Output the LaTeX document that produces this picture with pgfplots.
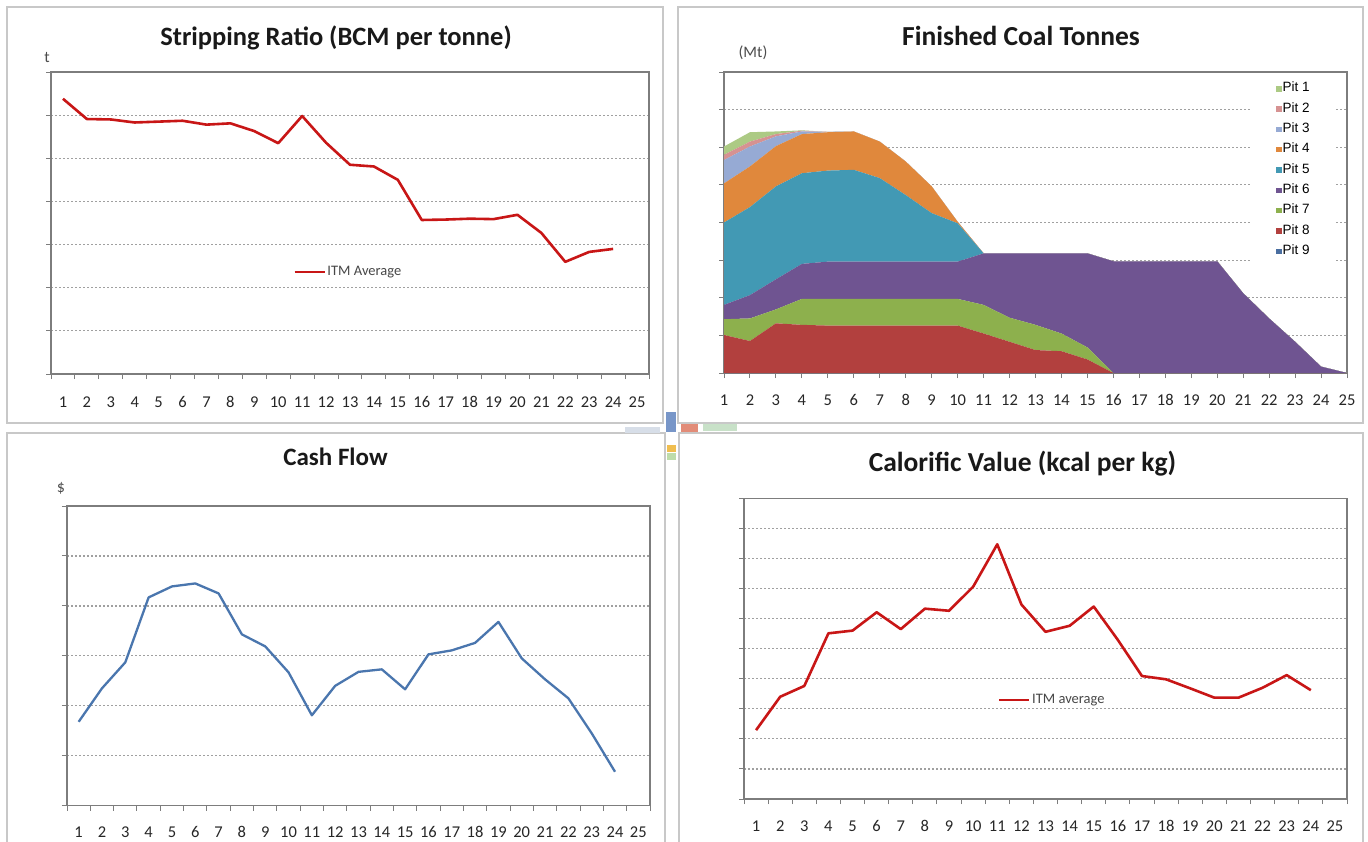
\documentclass[border=0pt]{standalone}
\usepackage{fontspec}
\setmainfont{Carlito}
\newfontfamily\arialfont{Liberation Sans}
\usepackage{pgfplots}
\pgfplotsset{compat=1.18}
\usepackage{pgfplotstable}

\definecolor{itmred}{RGB}{200,22,22}
\definecolor{cashblue}{RGB}{74,118,174}
\definecolor{pitA}{RGB}{172,202,132}
\definecolor{pitB}{RGB}{214,146,146}
\definecolor{pitC}{RGB}{150,170,212}
\definecolor{pitD}{RGB}{224,136,60}
\definecolor{pitE}{RGB}{66,153,180}
\definecolor{pitF}{RGB}{111,84,145}
\definecolor{pitG}{RGB}{141,176,77}
\definecolor{pitH}{RGB}{178,64,62}
\definecolor{pitI}{RGB}{74,110,160}
\definecolor{lightgreenrect}{RGB}{157,193,86}
\definecolor{lightredrect}{RGB}{196,80,78}
\definecolor{framegray}{RGB}{200,200,200}
\definecolor{axgray}{RGB}{125,125,125}
\definecolor{gridgray}{RGB}{160,160,160}
\definecolor{artA}{RGB}{215,222,232}
\definecolor{artB}{RGB}{120,150,200}
\definecolor{artC}{RGB}{226,140,120}
\definecolor{artD}{RGB}{200,225,200}
\definecolor{artE}{RGB}{240,190,80}
\definecolor{artF}{RGB}{190,220,170}

\pgfplotstableread{
x y
1 6.38
2 5.91
3 5.90
4 5.83
5 5.85
6 5.87
7 5.78
8 5.81
9 5.63
10 5.35
11 5.98
12 5.36
13 4.85
14 4.81
15 4.50
16 3.57
17 3.58
18 3.60
19 3.59
20 3.69
21 3.27
22 2.60
23 2.83
24 2.90
}\stripdata

\pgfplotstableread{
x p9 p8 p7 p6 p5 p4 p3 p2 p1
1 0 1.01 0.42 0.38 2.19 1.04 0.62 0.14 0.22
2 0 0.85 0.60 0.62 2.34 1.08 0.53 0.13 0.25
3 0 1.32 0.37 0.80 2.47 1.07 0.26 0.06 0.07
4 0 1.28 0.69 0.93 2.41 1.04 0.07 0.02 0.01
5 0 1.26 0.71 0.99 2.42 1.02 0.01 0 0
6 0 1.26 0.71 0.99 2.44 1.02 0 0 0
7 0 1.26 0.71 0.99 2.22 0.97 0 0 0
8 0 1.26 0.71 0.99 1.77 0.89 0 0 0
9 0 1.26 0.71 0.99 1.29 0.71 0 0 0
10 0 1.26 0.71 0.99 1.02 0.04 0 0 0
11 0 1.05 0.76 1.37 0 0 0 0 0
12 0 0.83 0.64 1.71 0 0 0 0 0
13 0 0.61 0.67 1.90 0 0 0 0 0
14 0 0.58 0.47 2.13 0 0 0 0 0
15 0 0.36 0.32 2.50 0 0 0 0 0
16 0 0 0 2.97 0 0 0 0 0
17 0 0 0 2.97 0 0 0 0 0
18 0 0 0 2.97 0 0 0 0 0
19 0 0 0 2.97 0 0 0 0 0
20 0 0 0 2.97 0 0 0 0 0
21 0 0 0 2.12 0 0 0 0 0
22 0 0 0 1.45 0 0 0 0 0
23 0 0 0 0.83 0 0 0 0 0
24 0 0 0 0.17 0 0 0 0 0
25 0 0 0 0 0 0 0 0 0
}\coaldata

\pgfplotstableread{
x y
1 1.68
2 2.35
3 2.87
4 4.17
5 4.39
6 4.45
7 4.25
8 3.43
9 3.19
10 2.67
11 1.81
12 2.40
13 2.68
14 2.73
15 2.33
16 3.03
17 3.11
18 3.26
19 3.68
20 2.95
21 2.53
22 2.15
23 1.45
24 0.68
}\cashdata

\pgfplotstableread{
x y
1 2.29
2 3.40
3 3.76
4 5.51
5 5.60
6 6.21
7 5.65
8 6.33
9 6.26
10 7.06
11 8.47
12 6.47
13 5.56
14 5.76
15 6.40
16 5.29
17 4.09
18 3.98
19 3.68
20 3.37
21 3.37
22 3.70
23 4.12
24 3.62
}\calodata

\pgfplotsset{
  excelbase/.style={
    scale only axis,
    anchor=south west,
    axis line style={axgray, line width=1.3pt},
    ymajorgrids,
    major grid style={gridgray, line width=1.2pt, dash pattern=on 1.6pt off 2.4pt},
    yticklabels={},
    xtick pos=left, ytick pos=left,
    tick align=outside,
    major tick length=5pt,
    minor tick length=5pt,
    every tick/.style={axgray, line width=1pt},
    every minor tick/.style={axgray, line width=1pt},
    xtick={1,...,25},
    tick label style={font=\fontsize{16.5}{17}\selectfont, color=black!85},
    /pgf/number format/assume math mode=true,
    legend cell align=left,
  },
  catx/.style={
    xmin=0.5, xmax=25.5,
    major x tick style={draw=none},
    minor xtick={0.5,1.5,...,25.5},
  },
  linelegend/.style={
    legend style={draw=none, fill=none, inner sep=0pt,
      font=\fontsize{14.5}{15}\selectfont\color{black!72},
      nodes={inner sep=1.5pt}},
    legend image code/.code={\draw[##1, line width=2.6pt] (0pt,0pt) -- (30pt,0pt);},
  },
}

\begin{document}
\begin{tikzpicture}
\useasboundingbox (0pt,0pt) rectangle (1368pt,-841pt);
\fill[white] (0pt,0pt) rectangle (1368pt,-841pt);
% panel frames
\draw[framegray, line width=1.6pt] (7pt,-7pt) rectangle (663pt,-423pt);
\draw[framegray, line width=1.6pt] (678pt,-7pt) rectangle (1363pt,-423pt);
\draw[framegray, line width=1.6pt] (7pt,-433pt) rectangle (665pt,-850pt);
\draw[framegray, line width=1.6pt] (679pt,-433pt) rectangle (1363pt,-850pt);

% Panel 1: Stripping ratio
\begin{axis}[excelbase, catx, linelegend, at={(51pt,-374pt)}, width=598pt, height=302pt,
  ymin=0, ymax=7, ytick={0,...,7},
  xticklabel style={anchor=base, yshift=-28.5pt},
  legend style={at={(0.405,0.338)}, anchor=west}]
\addplot[itmred, line width=2.6pt, line join=round] table[x=x,y=y] {\stripdata};
\addlegendentry{ITM Average}
\end{axis}

% Panel 2: Finished coal tonnes
\begin{axis}[excelbase, at={(724pt,-373pt)}, width=623pt, height=301pt,
  xmin=1, xmax=25, ymin=0, ymax=8, ytick={0,...,8},
  xticklabel style={anchor=base, yshift=-27pt},
  stack plots=y, reverse legend,
  legend style={draw=none, fill=white, at={(0.846,0.983)}, anchor=north west,
    inner xsep=25pt, inner ysep=6pt, row sep=9.2pt,
    font=\arialfont\fontsize{13.5}{13.5}\selectfont,
    nodes={inner xsep=1pt, inner ysep=0pt, text height=8.6pt, text depth=2.5pt}},
  legend image code/.code={\fill[#1] (0pt,-2.7pt) rectangle (5.4pt,2.7pt);}]
\addplot[fill=pitI, draw=none] table[x=x,y=p9] {\coaldata} \closedcycle;
\addlegendentry{Pit 9}
\addplot[fill=pitH, draw=none] table[x=x,y=p8] {\coaldata} \closedcycle;
\addlegendentry{Pit 8}
\addplot[fill=pitG, draw=none] table[x=x,y=p7] {\coaldata} \closedcycle;
\addlegendentry{Pit 7}
\addplot[fill=pitF, draw=none] table[x=x,y=p6] {\coaldata} \closedcycle;
\addlegendentry{Pit 6}
\addplot[fill=pitE, draw=none] table[x=x,y=p5] {\coaldata} \closedcycle;
\addlegendentry{Pit 5}
\addplot[fill=pitD, draw=none] table[x=x,y=p4] {\coaldata} \closedcycle;
\addlegendentry{Pit 4}
\addplot[fill=pitC, draw=none] table[x=x,y=p3] {\coaldata} \closedcycle;
\addlegendentry{Pit 3}
\addplot[fill=pitB, draw=none] table[x=x,y=p2] {\coaldata} \closedcycle;
\addlegendentry{Pit 2}
\addplot[fill=pitA, draw=none] table[x=x,y=p1] {\coaldata} \closedcycle;
\addlegendentry{Pit 1}
\fill[lightgreenrect] (axis cs:5.57,1.32) rectangle (axis cs:9.36,1.97);
\fill[lightredrect] (axis cs:5.69,0.46) rectangle (axis cs:9.49,1.08);
\end{axis}

% Panel 3: Cash flow
\begin{axis}[excelbase, catx, at={(67pt,-805.7pt)}, width=583pt, height=299.7pt,
  ymin=0, ymax=6, ytick={0,...,6},
  xticklabel style={anchor=base, yshift=-27pt}]
\addplot[cashblue, line width=2.3pt, line join=round] table[x=x,y=y] {\cashdata};
\end{axis}

% Panel 4: Calorific value
\begin{axis}[excelbase, catx, linelegend, at={(744pt,-799pt)}, width=603pt, height=300.7pt,
  ymin=0, ymax=10, ytick={0,...,10},
  xticklabel style={anchor=base, yshift=-27.3pt},
  legend style={at={(0.421,0.329)}, anchor=west}]
\addplot[itmred, line width=2.6pt, line join=round] table[x=x,y=y] {\calodata};
\addlegendentry{ITM average}
\end{axis}

% titles and unit labels
\begin{scope}[every node/.style={color=black!90}]
\node[anchor=base, font=\bfseries\fontsize{26.5}{30}\selectfont] at (336pt,-45.7pt) {Stripping Ratio (BCM per tonne)};
\node[anchor=base, font=\bfseries\fontsize{27.5}{30}\selectfont] at (1021pt,-45pt) {Finished Coal Tonnes};
\node[anchor=base, font=\bfseries\fontsize{25}{30}\selectfont] at (335.5pt,-465.7pt) {Cash Flow};
\node[anchor=base, font=\bfseries\fontsize{27.5}{30}\selectfont] at (1022.5pt,-471.5pt) {Calorific Value (kcal per kg)};
\end{scope}
\begin{scope}[every node/.style={font=\fontsize{16}{17}\selectfont, color=black!70}]
\node at (47pt,-57pt) {t};
\node at (753pt,-53pt) {(Mt)};
\node at (61pt,-488pt) {\$};
\end{scope}
% small window artefacts between panels
\fill[artA] (625pt,-427pt) rectangle (660pt,-433pt);
\fill[artB] (666pt,-412pt) rectangle (676pt,-432pt);
\fill[artC] (681pt,-424pt) rectangle (698pt,-432pt);
\fill[artD] (703pt,-424pt) rectangle (737pt,-431pt);
\fill[artE] (667pt,-445pt) rectangle (676pt,-452pt);
\fill[artF] (667pt,-453pt) rectangle (676pt,-460pt);
\end{tikzpicture}
\end{document}
